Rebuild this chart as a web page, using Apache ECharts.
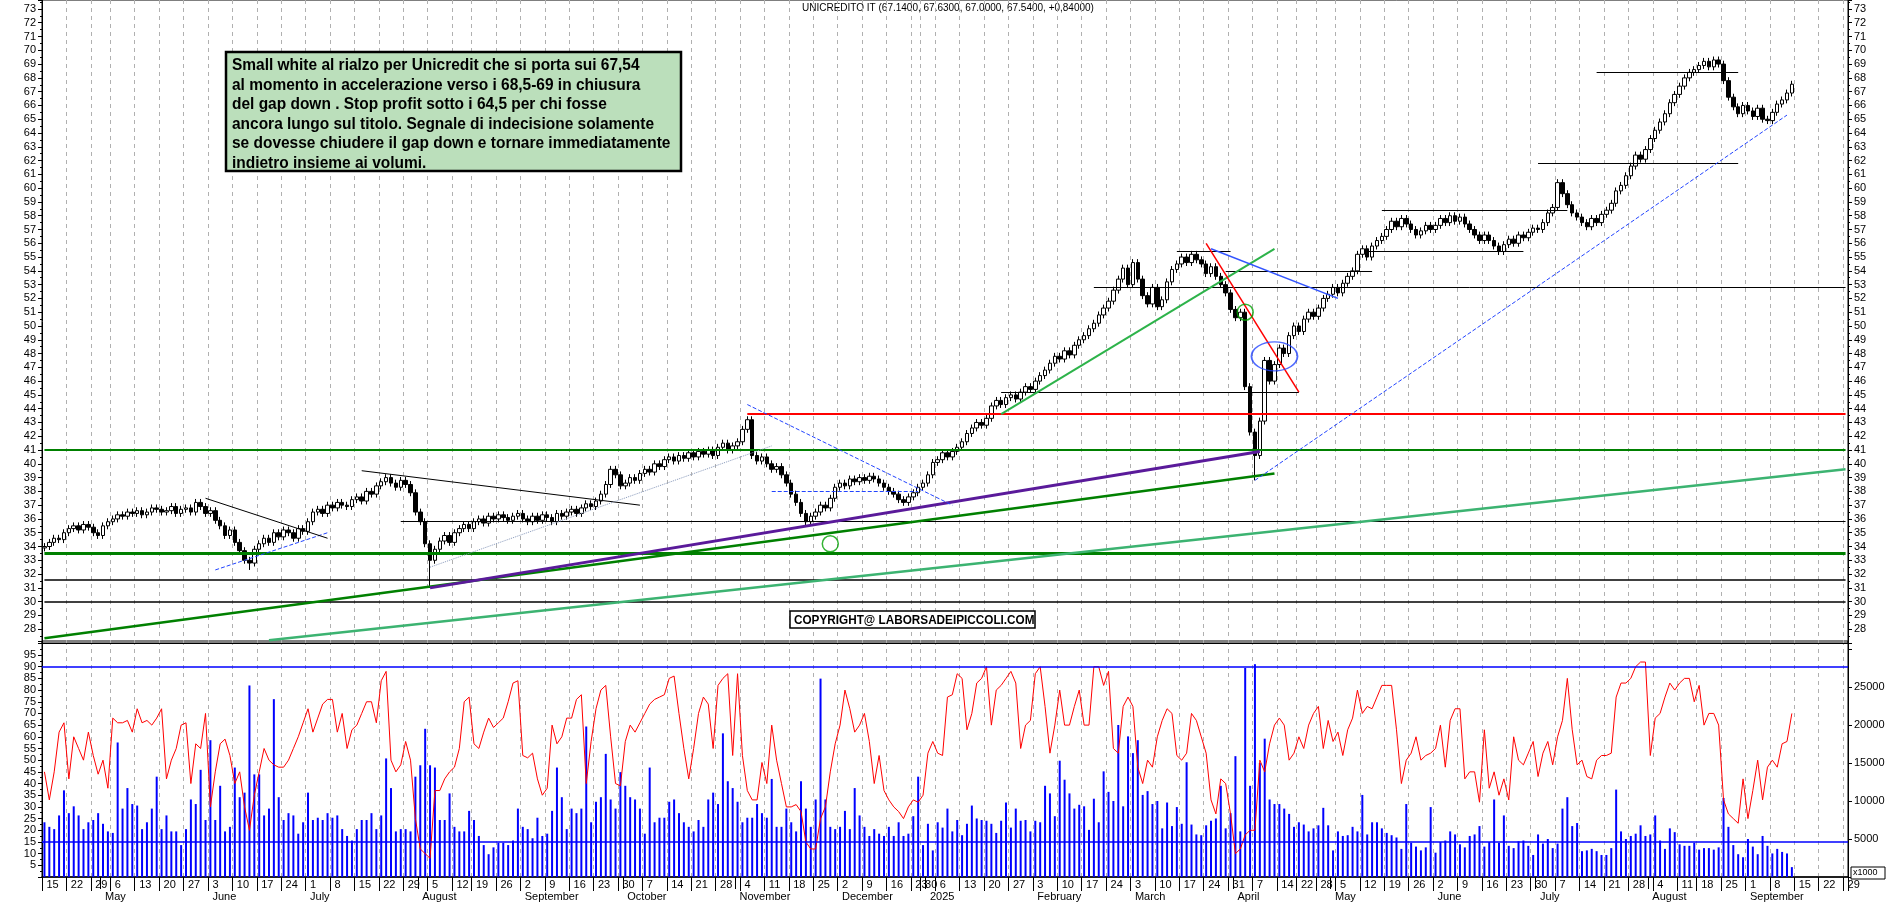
<!DOCTYPE html>
<html>
<head>
<meta charset="utf-8">
<script src="https://cdn.jsdelivr.net/npm/echarts@6/dist/echarts.min.js"></script>
<style>
  html, body { margin: 0; padding: 0; background: #fff; }
  #chart { width: 1890px; height: 902px; }
</style>
</head>
<body>
<div id="chart"></div>
<script>
// --- data ---
const startDate = '2024-04-15';
const futureSlots = 11;
const holidays = ['2024-05-01','2024-08-15','2024-12-24','2024-12-25','2024-12-26','2024-12-31',
  '2025-01-01','2025-04-18','2025-04-21','2025-05-01','2025-08-15'];
const monthNames = ['2025','February','March','April','May','June','July','August','September','October','November','December'];

// daily closes
const closes = [
  34.0,34.3,34.6,34.5,35.0, 35.3,35.5,35.2,35.6,35.4, 35.0,34.8,
  35.5,35.8, 36.0,36.3,36.2,36.5,36.4, 36.6,36.3,36.5,36.8,36.7, 36.5,36.6,36.9,36.4,36.7, 36.8,36.5,37.2,36.9,36.4,
  36.6,35.9,35.5,34.8,35.2, 34.3,33.7,33.0,32.8,33.8, 34.2,34.6,34.3,35.0,34.7, 35.2,35.0,34.6,35.3,35.1,
  35.8,36.5,36.7,36.4,37.0, 36.8,37.2,37.0,36.9,37.4, 37.6,37.3,38.0,37.8,38.4, 38.7,39.0,38.6,38.3,38.8, 38.5,37.9,36.5,
  35.8,34.2, 33.0,33.8,34.4,34.8,34.3, 35.0,35.3,35.6,35.3, 35.8,36.0,35.7,36.2,36.0, 36.3,36.1,35.9,36.2,36.4,
  36.0,35.8,36.2,35.9,36.3, 36.1,35.8,36.4,36.2,36.5, 36.7,36.4,36.8,37.1,36.9, 37.3,37.8,38.5,39.6,39.2, 38.4,
  38.6,39.0,38.8,39.3, 39.6,39.4,40.0,39.8,40.3, 40.5,40.2,40.6,40.4,40.8, 40.5,40.9,40.7,41.0,40.6, 41.2,41.5,41.0,41.3,
  41.6, 42.5,43.2,40.6,40.2,40.5, 40.0,39.6,39.8,39.2,38.6, 37.8,37.2,36.4,35.8,36.2, 36.5,37.0,36.8,37.5,38.3,
  38.6,38.4,38.9,38.7,39.0, 38.8,39.1,38.9,38.6,38.3, 38.0,37.8,37.4,37.2,37.6, 37.9,38.3,38.6,
  39.2,40.1, 40.3,40.8,40.5,40.9,41.2, 41.6,42.2,42.6,43.0,42.8, 43.3,44.2,44.6,44.3,44.8, 45.0,44.7,45.2,45.6,45.4,
  46.0,46.4,46.8,47.3,47.8, 47.6,48.2,47.9,48.6,49.0, 49.3,49.8,50.2,50.8,51.3, 51.8,52.6,53.4,54.2,53.0,
  54.6,53.4,52.2,51.6,52.8, 51.4,51.9,53.2,54.1,54.5, 55.0,54.6,55.2,54.8,54.5, 53.8,54.3,53.6,53.0,52.4, 51.2,
  50.6,51.0,45.6,42.3, 40.6,43.1,47.5,46.0,47.2, 48.4,48.0,49.3,50.0, 49.6,50.5,51.0,50.7, 51.3,52.0,52.3,
  52.8, 52.4,53.1,53.6,54.0,55.2, 55.6,55.0,55.8,56.2,56.5, 57.0,57.6,57.2,57.8,57.4, 57.0,56.6,56.9,57.3,57.0,
  57.3,57.8,57.5,58.0,57.6, 57.9,57.4,57.0,56.6,56.2, 56.6,56.2,55.8,55.4,55.9, 56.3,56.0,56.6,56.4,56.8, 57.1,
  57.0,57.5,58.2,58.6, 60.4,59.6,58.8,58.2,57.9, 57.5,57.2,57.8,57.5,58.1, 58.4,58.9,59.8,60.2,60.9, 61.6,62.4,62.1,62.8,
  63.6, 64.2,64.8,65.4,66.2,66.8, 67.4,68.0,68.4,68.6, 68.9,69.2,68.8,69.3,69.0, 67.8,66.6,65.9,65.4,66.0,
  65.6,65.2,65.8,65.0,64.9, 65.5,66.1,66.4,66.9,67.54
];
const firstOpen = 33.9;
const wickLows = { '2024-08-05': 31.0, '2025-04-07': 38.8, '2024-06-13': 32.3 };

// volume, thousands
const volumes = [
  7.2,6.6,6.3,8.1,11.4, 8.4,9.3,8.1,6.3,7.2, 7.5,8.4,
  7.0,6.0, 5.8,17.7,9.0,11.7,9.6, 9.4,6.3,7.2,9.0,13.2, 6.3,8.1,6.0,6.0,4.2, 6.3,10.2,9.6,14.1,7.5,
  18.0,7.5,12.0,6.0,6.6, 14.4,10.5,11.1,25.2,13.5, 13.5,8.1,9.0,23.4,10.5, 7.5,8.4,8.1,5.7,7.2,
  11.1,7.5,7.8,7.5,8.4, 7.8,8.1,6.3,5.4,4.8, 6.3,7.5,7.5,8.4,6.3, 8.1,15.6,11.7,6.0,6.3, 6.3,6.0,13.2,
  14.7,19.5, 14.7,14.4,7.5,7.5,11.0, 6.6,6.0,6.0,8.7, 7.5,5.4,4.2,3.0,3.9, 4.5,4.5,4.2,4.8,9.0,
  6.6,6.3,5.1,7.8,5.4, 5.7,8.7,14.4,10.5,6.3, 9.0,8.4,9.0,19.8,7.2, 9.9,10.5,16.2,10.2,9.0, 13.8,
  12.0,10.5,10.2,9.0, 5.7,14.4,7.2,7.8,7.8, 9.9,10.2,8.4,7.2,6.6, 6.0,7.5,6.6,10.2,11.1, 9.6,18.9,12.6,11.7,
  9.9, 7.2,7.8,7.8,9.6,8.4, 7.8,12.9,6.6,6.6,9.0, 7.2,6.0,12.6,9.0,6.6, 10.2,26.1,10.2,6.6,6.3,
  6.6,8.7,6.3,11.7,8.1, 6.6,5.4,6.3,5.7,5.4, 6.6,5.4,7.2,5.4,5.7, 8.0,13.2,4.2,
  7.0,3.5, 7.2,6.5,9.0,6.0,7.5, 5.5,7.0,9.4,7.7,7.5, 7.4,7.0,5.8,7.4,9.8, 6.5,9.0,7.4,7.5,6.0,
  7.4,7.2,12.0,11.0,8.0, 15.3,12.8,11.0,9.0,9.5, 9.3,6.2,10.3,7.2,13.9, 11.2,10.0,20.0,9.3,18.5,
  16.3,18.0,10.8,11.3,9.6, 10.0,6.4,9.8,6.7,9.2, 7.0,15.1,6.9,5.6,5.5, 6.8,7.4,7.7,12.0,6.4, 8.4,
  15.9,6.0,27.5,12.0, 28.0,15.0,18.2,10.2,9.6, 9.6,9.0,8.3,6.6, 7.2,6.9,6.0,6.4, 6.8,9.1,6.8,
  3.5, 6.0,5.4,5.5,6.6,6.0, 10.8,5.6,7.2,7.2,6.4, 5.8,5.5,5.2,3.7,9.6, 4.5,4.0,3.5,3.9,9.2,
  3.2,4.6,4.8,6.0,5.6, 4.3,3.9,5.4,5.6,6.7, 4.0,4.6,10.2,4.5,8.1, 4.1,3.8,4.7,4.8,4.1, 2.9,
  5.6,4.4,5.0,3.8, 4.4,9.0,10.5,6.7,7.1, 3.4,3.5,3.7,3.4,2.9, 2.9,3.8,11.5,6.0,5.0, 5.4,5.7,6.8,5.4,
  5.6, 8.1,4.8,3.7,6.4,5.9, 4.3,4.1,4.1,4.5, 3.6,3.8,3.8,3.6,3.9, 10.4,6.6,4.2,3.0,2.6,
  5.0,4.0,3.0,5.4,4.1, 3.1,3.7,3.3,3.1,1.3
];

// red oscillator
const oscillator = [
  45,33,45,62,66, 42,60,55,50,62, 52,44,
  50,38, 68,66,66,67,62, 72,66,67,65,68, 72,42,50,55,65, 66,40,57,55,70,
  30,45,57,59,52, 40,45,30,20,35, 45,55,50,48,47, 47,50,55,60,66,
  72,62,68,74,76, 76,62,70,55,63, 65,70,75,75,66, 84,88,50,45,48, 58,50,25,
  12,10, 8,37,37,42,45, 47,55,75,77, 57,55,62,68,64, 66,68,75,83,84,
  52,51,53,42,35, 38,65,57,60,68, 68,76,78,40,58, 72,80,82,60,40, 39,
  58,65,62,66, 70,74,76,77,78, 85,86,70,55,42, 55,70,77,74,55, 82,85,87,52,
  87, 52,37,33,33,49, 40,65,50,40,30, 30,31,28,15,12, 12,25,30,45,57,
  65,80,72,62,65, 70,58,40,52,37, 33,30,28,25,30, 33,32,35,
  53,58, 53,52,77,78,87, 85,63,70,83,85, 90,65,80,82,85, 88,83,55,65,67,
  87,90,73,53,65, 80,65,65,73,80, 65,65,90,90,82, 88,55,53,73,77,
  73,47,40,50,47, 60,67,72,70,52, 50,53,70,67,60, 53,33,27,42,40, 27,
  10,12,18,20, 20,50,45,57,65, 68,65,50,53, 60,55,65,70, 73,55,67,
  58, 62,52,63,68,80, 70,73,72,77,82, 82,82,63,40,50, 53,60,50,52,53,
  55,65,47,67,72, 72,42,45,45,32, 63,38,45,35,42, 33,60,50,48,53, 58,
  43,53,58,48, 60,67,85,63,48, 50,43,42,50,52, 52,53,77,83,83, 85,90,92,92,
  52, 68,70,77,83,80, 83,85,85,75, 82,65,70,70,65, 33,27,25,23,42,
  25,37,50,33,47, 50,47,57,58,70
];

// annotation lines: [fromIdx, fromPrice, toIdx, toPrice, color, width, type]
const trendLines = [
  [0, 33.5, 369, 33.5, '#008000', 3, 'solid'],
  [0, 41.0, 369, 41.0, '#008000', 2, 'solid'],
  [0, 31.6, 369, 31.6, '#000', 1.5, 'solid'],
  [0, 30.0, 369, 30.0, '#000', 1.5, 'solid'],
  [144, 43.6, 369, 43.6, '#ff0000', 2, 'solid'],
  [73, 35.8, 369, 35.8, '#000', 1, 'solid'],
  [215, 52.8, 369, 52.8, '#000', 1, 'solid'],
  [196, 45.2, 257, 45.2, '#000', 1, 'solid'],
  [232, 55.4, 243, 55.4, '#000', 1, 'solid'],
  [242, 54.0, 272, 54.0, '#000', 1, 'solid'],
  [271, 55.4, 303, 55.4, '#000', 1, 'solid'],
  [274, 58.4, 312, 58.4, '#000', 1, 'solid'],
  [306, 61.8, 347, 61.8, '#000', 1, 'solid'],
  [318, 68.4, 347, 68.4, '#000', 1, 'solid'],
  [0, 27.35, 252, 39.3, '#008000', 2.5, 'solid'],
  [46, 27.2, 369, 39.6, '#3cb371', 2.5, 'solid'],
  [79, 31.0, 249, 40.9, '#5a1a9a', 3, 'solid'],
  [196, 43.6, 252, 55.6, '#2db34a', 2, 'solid'],
  [238, 56.0, 257, 45.2, '#ff0000', 1.5, 'solid'],
  [239, 55.6, 265, 52.0, '#3355ff', 1.5, 'solid'],
  [248, 38.8, 357, 65.3, '#2244ff', 1, 'dashed'],
  [144, 44.3, 186, 37.0, '#2244ff', 1, 'dashed'],
  [149, 38.0, 179, 38.0, '#2244ff', 1, 'dashed'],
  [35, 32.3, 58, 35.0, '#2244ff', 1, 'dashed'],
  [33, 37.5, 58, 34.6, '#000', 1, 'solid'],
  [65, 39.5, 122, 37.0, '#000', 1, 'solid'],
  [79, 32.5, 149, 41.3, '#8899bb', 1, 'dotted']
];
// ellipses: [idx, price, w, h, color]
const ellipses = [
  [161, 34.2, 16, 16, '#00a000'],
  [246, 51.0, 16, 16, '#00a000'],
  [252, 47.8, 46, 29, '#2244ff']
];

const noteLines = [
  'Small white al rialzo per Unicredit che si porta sui 67,54',
  'al momento in accelerazione verso i 68,5-69 in chiusura',
  'del gap down . Stop profit sotto i 64,5 per chi fosse',
  'ancora lungo sul titolo. Segnale di indecisione solamente',
  'se dovesse chiudere il gap down e tornare immediatamente',
  'indietro insieme ai volumi.'
];
const titleText = 'UNICREDITO IT (67.1400, 67.6300, 67.0000, 67.5400, +0,84000)';

// --- build trading calendar ---
const holidaySet = new Set(holidays);
const dates = [];
(function () {
  let d = new Date(startDate + 'T12:00:00Z');
  const need = closes.length + futureSlots;
  while (dates.length < need) {
    const wd = d.getUTCDay();
    const s = d.toISOString().slice(0, 10);
    if (wd !== 0 && wd !== 6 && !holidaySet.has(s)) dates.push(s);
    d = new Date(d.getTime() + 86400000);
  }
})();
const dayNum = s => Math.floor(Date.parse(s + 'T12:00:00Z') / 86400000);
const weekStart = dates.map((s, i) => i === 0 || Math.floor((dayNum(s) + 3) / 7) !== Math.floor((dayNum(dates[i - 1]) + 3) / 7));
const monthStart = dates.map((s, i) => i > 0 && s.slice(0, 7) !== dates[i - 1].slice(0, 7));

const candles = dates.map((s, i) => {
  if (i >= closes.length) return '-';
  const o = i === 0 ? firstOpen : closes[i - 1];
  const c = closes[i];
  const hi = Math.max(o, c) + 0.25;
  const lo = wickLows[s] !== undefined ? wickLows[s] : Math.min(o, c) - 0.25;
  return [o, c, lo, hi];
});
const volData = dates.map((s, i) => i < volumes.length ? volumes[i] : '-');
const oscData = dates.map((s, i) => i < oscillator.length ? oscillator[i] : '-');

const markLineData = trendLines.map(t => [
  { coord: [t[0], t[1]], lineStyle: { color: t[4], width: t[5], type: t[6] } },
  { coord: [t[2], t[3]] }
]);

const font = 'Liberation Sans, Arial, sans-serif';
const boldFont = 'Liberation Sans, Arial, sans-serif';
const axisLab = { color: '#000', fontSize: 11, fontFamily: font };
const splitV = { show: true, interval: (i) => weekStart[i], lineStyle: { color: '#b0b0b0', type: [4, 4] } };

const chart = echarts.init(document.getElementById('chart'));
chart.setOption({
  animation: false,
  backgroundColor: '#fff',
  grid: [
    { left: 42, right: 42, top: 0, height: 643, show: true, borderColor: '#000', borderWidth: 1 },
    { left: 42, right: 42, top: 641, bottom: 25, show: true, borderColor: '#000', borderWidth: 1 }
  ],
  xAxis: [
    { type: 'category', gridIndex: 0, data: dates, boundaryGap: true,
      axisLabel: { show: false }, axisTick: { show: false }, axisLine: { lineStyle: { color: '#000' } }, splitLine: splitV },
    { type: 'category', gridIndex: 1, data: dates, boundaryGap: true,
      axisLine: { lineStyle: { color: '#000', width: 1.5 } },
      axisTick: { show: true, interval: (i) => weekStart[i], length: 14, lineStyle: { color: '#000' } },
      axisLabel: { ...axisLab, interval: (i) => weekStart[i], formatter: (v) => String(+v.slice(8, 10)),
        align: 'left', margin: 2, padding: [0, 0, 0, 2] },
      splitLine: splitV },
    { type: 'category', gridIndex: 1, data: dates, boundaryGap: true, position: 'bottom', offset: 13,
      axisLine: { show: false },
      axisTick: { show: true, interval: (i) => monthStart[i], length: 12, lineStyle: { color: '#000' } },
      axisLabel: { ...axisLab, interval: (i) => monthStart[i],
        formatter: (v) => monthNames[+v.slice(5, 7) - 1], align: 'left', margin: 1, padding: [0, 0, 0, 2] },
      splitLine: { show: false } }
  ],
  yAxis: [
    { type: 'value', gridIndex: 0, min: 27, max: 73.65, interval: 1, position: 'left',
      axisLine: { show: true, lineStyle: { color: '#000' } }, axisTick: { show: true, length: 4 },
      minorTick: { show: true, splitNumber: 2, length: 2 },
      axisLabel: { ...axisLab, margin: 6, showMaxLabel: false, formatter: (v) => v <= 27 ? '' : v },
      splitLine: { show: false } },
    { type: 'value', gridIndex: 0, min: 27, max: 73.65, interval: 1, position: 'right',
      axisLine: { show: true, lineStyle: { color: '#000' } }, axisTick: { show: true, length: 4 },
      minorTick: { show: true, splitNumber: 2, length: 2 },
      axisLabel: { ...axisLab, margin: 6, showMaxLabel: false, formatter: (v) => v <= 27 ? '' : v },
      splitLine: { show: false } },
    { type: 'value', gridIndex: 1, min: 0, max: 101, interval: 5, position: 'left',
      axisLine: { show: true, lineStyle: { color: '#000' } }, axisTick: { show: true, length: 4 },
      minorTick: { show: true, splitNumber: 2, length: 2 },
      axisLabel: { ...axisLab, margin: 6, showMaxLabel: false, formatter: (v) => (v <= 0 || v >= 100) ? '' : v },
      splitLine: { show: false } },
    { type: 'value', gridIndex: 1, min: 0, max: 31.05, interval: 5, position: 'right',
      axisLine: { show: true, lineStyle: { color: '#000' } }, axisTick: { show: true, length: 4 },
      axisLabel: { ...axisLab, margin: 6, showMaxLabel: false, formatter: (v) => (v <= 0 || v >= 30) ? '' : String(v * 1000) },
      splitLine: { show: false } }
  ],
  series: [
    { type: 'candlestick', xAxisIndex: 0, yAxisIndex: 0, data: candles, barWidth: 4,
      itemStyle: { color: '#fff', color0: '#000', borderColor: '#000', borderColor0: '#000', borderWidth: 1 },
      markLine: { silent: true, symbol: 'none', label: { show: false }, data: markLineData } },
    { type: 'scatter', xAxisIndex: 0, yAxisIndex: 0, silent: true,
      data: ellipses.map(e => ({ value: [e[0], e[1]], symbolSize: [e[2], e[3]],
        itemStyle: { color: 'rgba(0,0,0,0)', borderColor: e[4], borderWidth: 1.5 } })),
      symbol: 'circle', z: 5 },
    { type: 'bar', xAxisIndex: 1, yAxisIndex: 3, data: volData, barWidth: 2,
      itemStyle: { color: '#0000ff' } },
    { type: 'line', xAxisIndex: 1, yAxisIndex: 2, data: oscData, symbol: 'none',
      lineStyle: { color: '#ff0000', width: 1 }, z: 4,
      markLine: { silent: true, symbol: 'none', label: { show: false },
        lineStyle: { color: '#0000ff', width: 1.5, type: 'solid' },
        data: [{ yAxis: 90 }, { yAxis: 15 }] } }
  ],
  graphic: [
    { type: 'text', left: 802, top: 3, style: { text: titleText, fontSize: 10, fontFamily: font, fill: '#000' } },
    { type: 'rect', shape: { x: 226, y: 52, width: 455, height: 119 },
      style: { fill: '#bbdfbb', stroke: '#000', lineWidth: 2.5 }, z: 10 },
    { type: 'text', x: 232, y: 56, scaleX: 0.91, z: 11,
      style: { text: noteLines.join('\n'), fontSize: 17, lineHeight: 19.5, fontWeight: 'bold',
        fontFamily: boldFont, fill: '#000' } },
    { type: 'rect', shape: { x: 790, y: 611, width: 245, height: 17 },
      style: { fill: '#fff', stroke: '#000', lineWidth: 1.5 }, z: 10 },
    { type: 'text', x: 794, y: 613, scaleX: 0.87, z: 11,
      style: { text: 'COPYRIGHT@ LABORSADEIPICCOLI.COM', fontSize: 13.5, fontWeight: 'bold',
        fontFamily: boldFont, fill: '#000' } },
    { type: 'rect', shape: { x: 1851, y: 867, width: 34, height: 12 },
      style: { fill: '#fff', stroke: '#000', lineWidth: 1 }, z: 10 },
    { type: 'text', left: 1853, top: 868, z: 11, style: { text: 'x1000', fontSize: 9, fontFamily: font, fill: '#000' } }
  ]
});
</script>
</body>
</html>
